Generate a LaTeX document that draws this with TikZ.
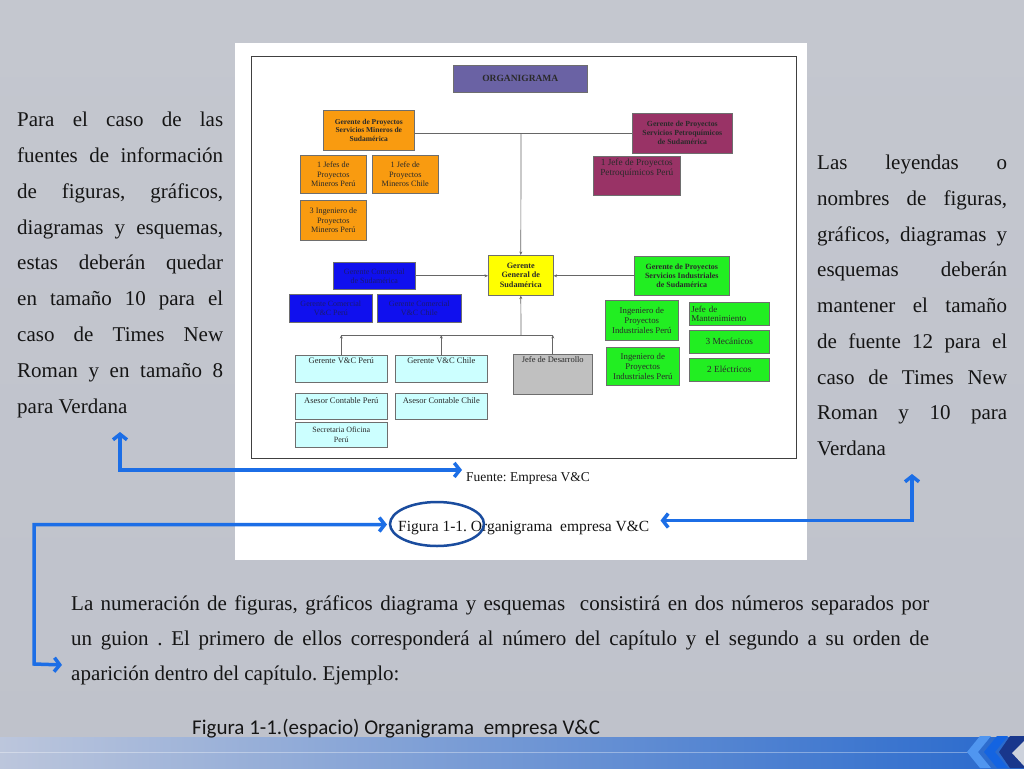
\documentclass[tikz,border=0pt]{standalone}
\usepackage{fontspec}
\setmainfont{Liberation Serif}
\newfontfamily\carl{Carlito}
\usetikzlibrary{arrows.meta,calc}
\frenchspacing
\definecolor{bg}{HTML}{BFC2CB}
\definecolor{bgtop}{HTML}{C4C7CF}
\definecolor{txt}{HTML}{151515}
\definecolor{chartxt}{HTML}{2A2A2A}
\definecolor{boxline}{HTML}{6E6E6E}
\definecolor{purp}{HTML}{6A62A4}
\definecolor{orng}{HTML}{F99B10}
\definecolor{mage}{HTML}{993366}
\definecolor{yell}{HTML}{FFFF00}
\definecolor{blu}{HTML}{1010EE}
\definecolor{blutxt}{HTML}{1A1A70}
\definecolor{grn}{HTML}{22EE22}
\definecolor{cyn}{HTML}{CCFFFF}
\definecolor{gry}{HTML}{C0C0C0}
\definecolor{arrowblue}{HTML}{1C6EE6}
\definecolor{ellc}{HTML}{1A4C9E}
\definecolor{bandL}{HTML}{BCC6DC}
\definecolor{bandR}{HTML}{2869CD}
\definecolor{chevA}{HTML}{5096F0}
\definecolor{chevB}{HTML}{1464E1}
\definecolor{chevC}{HTML}{19378C}
\definecolor{chevD}{HTML}{CDD2DC}
\tikzset{
  box/.style={draw=boxline, line width=0.6pt, inner sep=1pt, align=center, anchor=north west, text=chartxt, font=\fontsize{8.2}{9.4}\selectfont},
  bbold/.style={font=\bfseries\fontsize{7.5}{8.8}\selectfont},
  gsub/.style={font=\fontsize{8.8}{9.8}\selectfont},
  lbl/.style={anchor=north, inner sep=2.5pt, align=center, text=chartxt, font=\fontsize{8.5}{9.5}\selectfont},
  cline/.style={draw=gray!80!black, line width=0.7pt},
  carrow/.style={cline, -{Stealth[length=3.5pt,width=3pt]}},
  barrow/.style={draw=arrowblue, line width=3.5pt, {Straight Barb[length=5.5pt,width=14pt]}-{Straight Barb[length=5.5pt,width=14pt]}},
  para/.style={anchor=base west, inner sep=0, text=txt, font=\fontsize{21}{23}\selectfont},
}
\begin{document}
\begin{tikzpicture}[x=1pt,y=-1pt]
\useasboundingbox (0,0) rectangle (1024,768);
\shade[top color=bgtop, bottom color=bg] (0,0) rectangle (1024,768);
% bottom band
\shade[left color=bandL, right color=bandR] (0,737) rectangle (1024,768);
\draw[white, opacity=0.35, line width=0.8pt] (0,752) -- (970,752);
\fill[chevA] (980,736) -- (967,752) -- (980,768) -- (991,768) -- (978,752) -- (991,736) -- cycle;
\fill[chevB] (997,736) -- (984,752) -- (997,768) -- (1008,768) -- (995,752) -- (1008,736) -- cycle;
\fill[chevC] (1010,736) -- (999,752) -- (1010,768) -- (1024,768) -- (1024,736) -- cycle;
\fill[chevD] (1024,741) -- (1012,753) -- (1024,766) -- cycle;

% white picture
\fill[white] (235,43) rectangle (807,560);
\draw[black!75, line width=0.9pt] (251,56) rectangle (796,458);

% org chart
\node[box, fill=purp, minimum width=134, minimum height=27, font=\bfseries\fontsize{9.5}{10}\selectfont] (org) at (453,65) {ORGANIGRAMA};

\node[box, bbold, fill=orng, minimum width=91, minimum height=40] (gpm) at (323,110) {Gerente de Proyectos\\Servicios Mineros de\\Sudamérica};
\node[box, fill=orng, minimum width=66, minimum height=38] (jpp) at (300,155) {1 Jefes de\\Proyectos\\Mineros Perú};
\node[box, fill=orng, minimum width=66, minimum height=38] (jpc) at (372,155) {1 Jefe de\\Proyectos\\Mineros Chile};
\node[box, fill=orng, minimum width=66, minimum height=40] (ipm) at (300,200) {3 Ingeniero de\\Proyectos\\Mineros Perú};

\node[box, bbold, fill=mage, minimum width=100, minimum height=40, font=\bfseries\fontsize{7.8}{9}\selectfont] (gpp) at (632,113) {Gerente de Proyectos\\Servicios Petroquímicos\\de Sudamérica};
\node[box, fill=mage, minimum width=87, minimum height=39, label={[lbl, font=\fontsize{9.3}{10.4}\selectfont]north:{1 Jefe de Proyectos\\Petroquímicos Perú}}] (jpq) at (593,156) {};

\node[box, fill=yell, minimum width=65, minimum height=40, font=\bfseries\fontsize{8.2}{9.4}\selectfont] (ggs) at (488,255) {Gerente\\General de\\Sudamérica};

\node[box, fill=blu, text=blutxt, minimum width=82, minimum height=27, font=\fontsize{8}{9}\selectfont] (gcs) at (333,262) {Gerente Comercial\\de Sudamérica};
\node[box, fill=blu, text=blutxt, minimum width=83, minimum height=28, font=\fontsize{8}{9}\selectfont] (gcp) at (289,294) {Gerente Comercial\\V\&C Perú};
\node[box, fill=blu, text=blutxt, minimum width=84, minimum height=28, font=\fontsize{8}{9}\selectfont] (gcc) at (377,294) {Gerente Comercial\\V\&C Chile};

\node[box, fill=grn, minimum width=95, minimum height=39, font=\bfseries\fontsize{8}{9.2}\selectfont] (gpi) at (634,256) {Gerente de Proyectos\\Servicios Industriales\\de Sudamérica};
\node[box, gsub, fill=grn, minimum width=73, minimum height=40] (ipi1) at (605,300) {Ingeniero de\\Proyectos\\Industriales Perú};
\node[box, gsub, fill=grn, minimum width=73, minimum height=38] (ipi2) at (606,347) {Ingeniero de\\Proyectos\\Industriales Perú};
\node[box, gsub, fill=grn, minimum width=80, minimum height=23, align=left, text width=76, font=\fontsize{9}{9.5}\selectfont] (jm) at (689,302) {Jefe de\\Mantenimiento};
\node[box, gsub, fill=grn, minimum width=80, minimum height=23, font=\fontsize{9.3}{10}\selectfont] (mec) at (689,330) {3 Mecánicos};
\node[box, gsub, fill=grn, minimum width=80, minimum height=23, font=\fontsize{9.3}{10}\selectfont] (ele) at (689,358) {2 Eléctricos};

\node[box, fill=cyn, minimum width=92, minimum height=27, label={[lbl]north:{Gerente V\&C Perú}}] (gvp) at (295,355) {};
\node[box, fill=cyn, minimum width=92, minimum height=27, label={[lbl]north:{Gerente V\&C Chile}}] (gvc) at (395,355) {};
\node[box, fill=gry, minimum width=79, minimum height=40, label={[lbl]north:{Jefe de Desarrollo}}] (jd) at (513,354) {};
\node[box, fill=cyn, minimum width=92, minimum height=26, label={[lbl, inner sep=4pt]north:{Asesor Contable Perú}}] (acp) at (295,393) {};
\node[box, fill=cyn, minimum width=92, minimum height=26, label={[lbl, inner sep=4pt]north:{Asesor Contable Chile}}] (acc) at (395,393) {};
\node[box, fill=cyn, minimum width=92, minimum height=25, font=\fontsize{8}{9.5}\selectfont] (sop) at (295,422) {Secretaria Oficina\\Perú};

% chart connectors
\coordinate (tj) at (521,133);
\draw[cline] (gpm.east|-tj) -- (gpp.west|-tj);
\draw[carrow] (tj) -- (ggs.north);
\draw[carrow] (gcs.east) -- (ggs.west|-gcs.east);
\draw[carrow] (gpi.west) -- (ggs.east|-gpi.west);
\coordinate (bj) at (521,335);
\draw[cline] (gvp.north|-bj) -- (jd.north|-bj);
\draw[carrow] (bj) -- (ggs.south);
\draw[carrow] (gvp.north) -- (gvp.north|-bj);
\draw[carrow] (gvc.north) -- (gvc.north|-bj);
\draw[carrow] (jd.north) -- (jd.north|-bj);

% captions
\node[anchor=base west, inner sep=0, text=txt, font=\fontsize{13.5}{15}\selectfont] (fuente) at (466,481) {Fuente: Empresa V\&C};
\node[anchor=base west, inner sep=0, text=txt, font=\fontsize{15.5}{17}\selectfont] (cap) at (398,531) {Figura 1-1. Organigrama\ \ empresa V\&C};
\draw[ellc, line width=2.5pt] (437,524) ellipse [x radius=47, y radius=22];

% left paragraph
\node[para] (L1) at (17,126) {\makebox[206pt][s]{Para el caso de las}};
\node[para] (L2) at (17,162) {\makebox[206pt][s]{fuentes de información}};
\node[para] (L3) at (17,198) {\makebox[206pt][s]{de figuras, gráficos,}};
\node[para] (L4) at (17,234) {\makebox[206pt][s]{diagramas y esquemas,}};
\node[para] (L5) at (17,269) {\makebox[206pt][s]{estas deberán quedar}};
\node[para] (L6) at (17,305) {\makebox[206pt][s]{en tamaño 10 para el}};
\node[para] (L7) at (17,341) {\makebox[206pt][s]{caso de Times New}};
\node[para] (L8) at (17,377) {\makebox[206pt][s]{Roman y en tamaño 8}};
\node[para] (L9) at (17,413) {para Verdana};

% right paragraph
\node[para] (R1) at (817,169) {\makebox[190pt][s]{Las leyendas o}};
\node[para] (R2) at (817,205) {\makebox[190pt][s]{nombres de figuras,}};
\node[para] (R3) at (817,241) {\makebox[190pt][s]{gráficos, diagramas y}};
\node[para] (R4) at (817,276) {\makebox[190pt][s]{esquemas deberán}};
\node[para] (R5) at (817,312) {\makebox[190pt][s]{mantener el tamaño}};
\node[para] (R6) at (817,348) {\makebox[190pt][s]{de fuente 12 para el}};
\node[para] (R7) at (817,384) {\makebox[190pt][s]{caso de Times New}};
\node[para] (R8) at (817,419) {\makebox[190pt][s]{Roman y 10 para}};
\node[para] (R9) at (817,455) {Verdana};

% bottom paragraph
\node[para] (B1) at (71,610) {\makebox[858pt][s]{La numeración de figuras, gráficos diagrama y esquemas\ \ consistirá en dos números separados por}};
\node[para] (B2) at (71,645) {\makebox[858pt][s]{un guion . El primero de ellos corresponderá al número del capítulo y el segundo a su orden de}};
\node[para] (B3) at (71,680) {aparición dentro del capítulo. Ejemplo:};

\node[anchor=base west, inner sep=0, text=txt, font=\carl\fontsize{21}{23}\selectfont] (ex) at (192,734) {Figura 1-1.(espacio) Organigrama\ \ empresa V\&C};

% blue arrows
\coordinate (p1) at (120,432);
\draw[barrow] (p1) |- ($(fuente.west)+(-4,-8)$);
\coordinate (p2) at (34,664);
\draw[barrow] ($(cap.west)+(-11,-3)$) -| (p2) -- ($(B3.west)+(-9,-10)$);
\coordinate (p3) at (912,474);
\draw[barrow] (p3) |- ($(cap.east)+(11,-7)$);
\end{tikzpicture}
\end{document}
